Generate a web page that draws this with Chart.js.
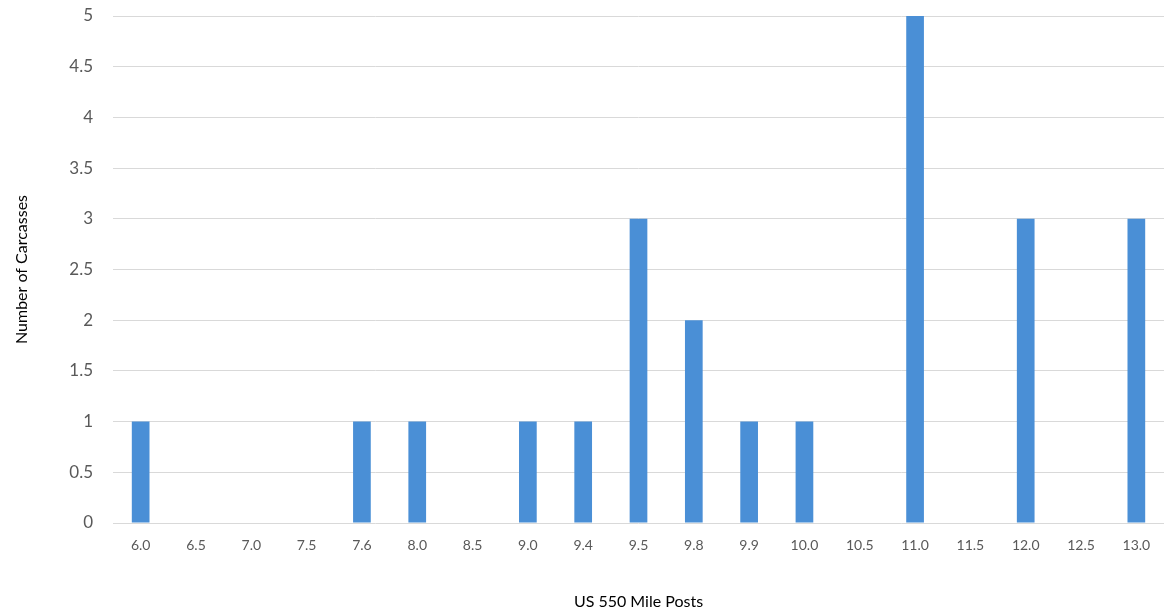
<!DOCTYPE html>
<html>
<head>
<meta charset="utf-8">
<script src="https://cdn.jsdelivr.net/npm/chart.js@4"></script>
<style>
  html, body { margin: 0; padding: 0; background: #fff; }
  #wrap { width: 1169px; height: 615px; }
</style>
</head>
<body>
<div id="wrap"><canvas id="myChart"></canvas></div>
<script>
var mileposts = ['6.0', '6.5', '7.0', '7.5', '7.6', '8.0', '8.5', '9.0', '9.4', '9.5', '9.8', '9.9', '10.0', '10.5', '11.0', '11.5', '12.0', '12.5', '13.0'];
var carcasses = [1, 0, 0, 0, 1, 1, 0, 1, 1, 3, 2, 1, 1, 0, 5, 0, 3, 0, 3];
var yTicks = [0, 0.5, 1, 1.5, 2, 2.5, 3, 3.5, 4, 4.5, 5];

var ctx = document.getElementById('myChart');

var data = {
    labels: mileposts,
    datasets: [
        {
            label: 'Carcasses',
            data: carcasses,
            backgroundColor: '#4a8fd6',
            barPercentage: 0.32,
            categoryPercentage: 1.0
        }]
};

var chart = new Chart(ctx, {
    type: 'bar',
    data: data,
    options: {
        responsive: true,
        maintainAspectRatio: false,
        animation: false,
        layout: { padding: { top: 16, right: 5, left: 0, bottom: 0 } },
        plugins: {
            legend: { display: false },
            tooltip: { enabled: false }
        },
        scales: {
            x: {
                grid: { display: false },
                border: { display: false },
                ticks: {
                    color: '#595959',
                    font: { family: 'Lato', size: 14 },
                    maxRotation: 0,
                    autoSkip: false,
                    padding: 6
                },
                title: {
                    display: true,
                    text: 'US 550 Mile Posts',
                    color: '#000',
                    font: { family: 'Lato', size: 16 },
                    padding: { top: 32 }
                },
                afterFit: function (scale) { scale.height = 92; }
            },
            y: {
                min: 0,
                max: 5,
                afterBuildTicks: function (scale) {
                    scale.ticks = yTicks.map(function (v) { return { value: v }; });
                },
                grid: { color: '#d9d9d9', drawTicks: true, tickLength: 20, tickColor: 'rgba(0,0,0,0)' },
                border: { display: false },
                ticks: {
                    color: '#595959',
                    font: { family: 'Lato', size: 17 },
                    padding: 0,
                    callback: function (v) { return String(v); }
                },
                title: {
                    display: true,
                    text: 'Number of Carcasses',
                    color: '#000',
                    font: { family: 'Lato', size: 16 },
                    padding: { top: 12, bottom: 20 }
                },
                afterFit: function (scale) { scale.width = 113; }
            }
        }
    }
});
</script>
</body>
</html>
